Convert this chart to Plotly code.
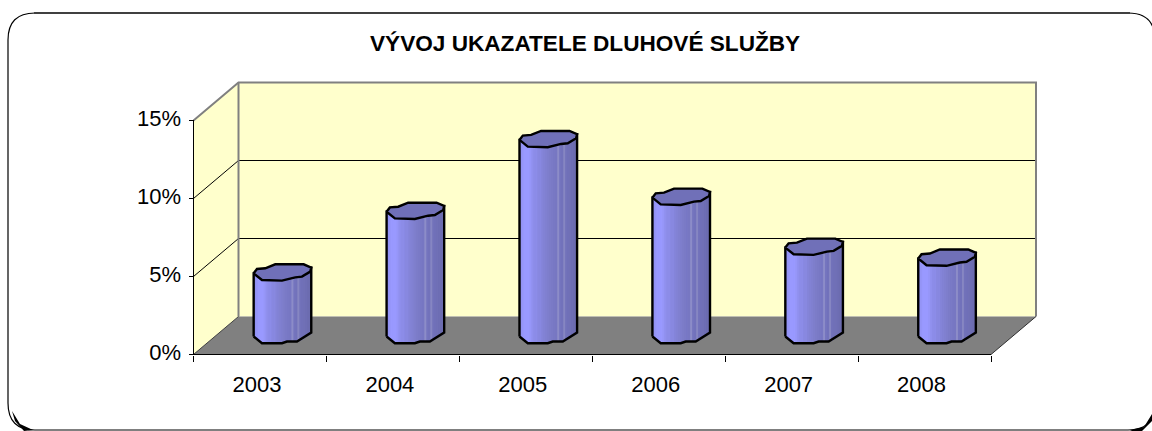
import numpy as np
import plotly.graph_objects as go

# ---- data ----
years = ["2003", "2004", "2005", "2006", "2007", "2008"]
values = [4.05, 8.0, 12.6, 8.9, 5.7, 5.0]
y_ticks = [0, 5, 10, 15]
y_labels = ["0%", "5%", "10%", "15%"]

W, H = 1152, 431
# plot box (px)
FX0, FX1 = 193.5, 991.0      # front axis extent
BX1 = 1036.0                 # back wall right
Y0, YT = 354.5, 82.5         # floor front, wall top
PAD = 4.0                    # room kept round the box so its edges are not clipped
UX = (FX1 - FX0) / 6         # px per category
UY = 234.0 / 15              # px per percent
DX = (BX1 - FX1) / UX        # depth in x units
DY = 38.0 / UY               # depth in y units
BODY_W = 57.6 / UX

# cylinder cross-section outline, px relative to its centre (y down)
LOW_X = [-28.8, -20.5, -0.5, 12.8, 19.5, 27.8, 28.8]
LOW_Y = [1.0, 7.7, 8.3, 5.0, 4.3, -0.7, -4.7]
UP_X = [28.8, 21.2, -7.2, -17.2, -25.5, -28.8]
UP_Y = [-4.7, -8.0, -8.0, -4.0, -3.3, 1.0]
BOT_X = [-28.8, -20.5, -0.5, 4.5, 14.5, 27.8, 28.8]
BOT_Y = [1.0, 7.7, 7.7, 6.0, 6.0, -2.3, -3.0]

# gradient strips
STRIP_COLORS = [
    "#9090f0", "#9595f8", "#9999ff", "#9999ff", "#9999ff", "#9696f8",
    "#9090ee", "#8c8ce8", "#8c8ce8", "#8888e0", "#8888e0", "#8484d8",
    "#8282d4", "#8080d0", "#7e7ecc", "#7c7cc8", "#7a7ac6", "#7878c4",
    "#7777c2", "#8c8cc8", "#7474be", "#7272bb", "#8686c2", "#7272ba",
    "#7070b8", "#7070b6", "#6e6eb4", "#6c6cb0", "#6c6cb0",
]
CAP = "#7070b8"
WALL = "#ffffcc"
FLOOR = "#808080"


def px(x):
    return x / W


def py(y):
    return 1 - y / H


def P(pts):
    return "M " + " L ".join(f"{px(a):.5f},{py(b):.5f}" for a, b in pts) + " Z"


fig = go.Figure()
centers = [i + 0.5 + DX / 2 for i in range(len(years))]
base0 = DY / 2

n = len(STRIP_COLORS)
sw = BODY_W / n
for k, col in enumerate(STRIP_COLORS):
    off = (k + 0.5) * sw - BODY_W / 2
    off_px = off * UX
    bot = np.interp(off_px, BOT_X, BOT_Y) / UY
    top = np.interp(off_px, LOW_X, LOW_Y) / UY
    # each strip reaches under the next one so no seam shows
    wide = 2 * sw if k < n - 1 else sw
    fig.add_trace(go.Bar(
        x=[c + off - sw / 2 + wide / 2 for c in centers],
        y=[v + bot - top for v in values],
        base=[base0 - bot] * len(values),
        width=wide,
        marker=dict(color=col, line=dict(width=0)),
        showlegend=False, hoverinfo="skip",
    ))

for c, v in zip(centers, values):
    top_y = base0 + v
    lx = [c + a / UX for a in LOW_X]
    ly = [top_y - b / UY for b in LOW_Y]
    ux = [c + a / UX for a in UP_X]
    uy = [top_y - b / UY for b in UP_Y]
    bx = [c + a / UX for a in BOT_X]
    by = [base0 - b / UY for b in BOT_Y]
    # silhouette
    fig.add_trace(go.Scatter(
        x=bx + [ux[0]] + [lx[0]] + [bx[0]],
        y=by + [uy[0]] + [ly[0]] + [by[0]],
        mode="lines", line=dict(color="black", width=2.4),
        showlegend=False, hoverinfo="skip",
    ))
    # top cap
    fig.add_trace(go.Scatter(
        x=lx + ux[1:], y=ly + uy[1:], mode="lines", fill="toself",
        fillcolor=CAP, line=dict(color="black", width=2.4),
        showlegend=False, hoverinfo="skip",
    ))

shapes = []


def poly(pts, fill=None, color=None, width=0, layer="below"):
    d = "M " + " L ".join(f"{a:.4f},{b:.4f}" for a, b in pts)
    if fill:
        d += " Z"
    shapes.append(dict(type="path", path=d, xref="x", yref="y", layer=layer,
                       fillcolor=fill or "rgba(0,0,0,0)",
                       line=dict(color=color or "rgba(0,0,0,0)", width=width)))


# walls and floor
poly([(DX, DY), (6 + DX, DY), (6 + DX, 15 + DY), (DX, 15 + DY)], fill=WALL)
poly([(0, 0), (DX, DY), (DX, 15 + DY), (0, 15)], fill=WALL)
poly([(0, 0), (6, 0), (6 + DX, DY), (DX, DY)], fill=FLOOR)
# gridlines
for t in y_ticks[1:-1]:
    poly([(0, t), (DX, t + DY), (6 + DX, t + DY)], color="black", width=1)
# grey wall edges
poly([(0, 15), (DX, 15 + DY), (6 + DX, 15 + DY), (6 + DX, DY)], color="#808080", width=2)
poly([(DX, DY), (DX, 15 + DY)], color="#808080", width=2)
poly([(0, 0), (DX, DY)], color="#404040", width=1)
poly([(6, 0), (6 + DX, DY)], color="#303030", width=1)
# axis lines
poly([(0, 15), (0, 0), (6, 0)], color="black", width=1)

# outer card
R = 27
card = (f"M {px(8)},{py(13 + R)} Q {px(8)},{py(13)} {px(8 + R)},{py(13)} "
        f"L {px(1155 - R)},{py(13)} Q {px(1155)},{py(13)} {px(1155)},{py(13 + R)} "
        f"L {px(1155)},{py(430 - R)} Q {px(1155)},{py(430)} {px(1155 - R)},{py(430)} "
        f"L {px(8 + R)},{py(430)} Q {px(8)},{py(430)} {px(8)},{py(430 - R)} Z")
shapes.insert(0, dict(type="path", path=card, xref="paper", yref="paper", layer="below",
                      fillcolor="white", line=dict(color="black", width=1.2)))
shapes.append(dict(type="line", xref="paper", yref="paper", layer="above",
                   x0=px(34), x1=px(1130), y0=py(13), y1=py(13),
                   line=dict(color="#404040", width=2)))
# corner shadow wedges
for pts in ([(1130, 430), (1144, 427), (1152, 414), (1152, 421), (1142, 431), (1132, 431)],
            [(12, 411), (20, 424), (33, 430), (24, 431), (15, 421)]):
    shapes.append(dict(type="path", path=P(pts), xref="paper", yref="paper", layer="above",
                       fillcolor="black", line=dict(width=0)))

fig.update_layout(
    width=W, height=H, margin=dict(l=0, r=0, t=0, b=0, autoexpand=False), autosize=False,
    paper_bgcolor="white", plot_bgcolor="rgba(0,0,0,0)",
    barmode="overlay", showlegend=False, shapes=shapes,
    font=dict(family="Liberation Sans, Arial, sans-serif", color="black"),
    xaxis=dict(
        domain=[px(FX0 - PAD), px(BX1 + PAD)], range=[-PAD / UX, 6 + DX + PAD / UX],
        type="linear", automargin=False, anchor="free", position=py(Y0),
        tickmode="array", tickvals=[i + 0.5 for i in range(len(years))], ticktext=years,
        ticks="", ticklen=0, showgrid=False, zeroline=False, showline=False,
        tickfont=dict(size=22), ticklabelstandoff=14, ticklabelshift=-3,
        minor=dict(tickmode="array", tickvals=list(range(len(years) + 1)), ticks="outside",
                   ticklen=6, tickcolor="black", tickwidth=1, showgrid=False),
    ),
    yaxis=dict(
        domain=[py(Y0 + PAD), py(YT - PAD)], range=[-PAD / UY, (Y0 - YT + PAD) / UY],
        automargin=False, anchor="free", position=px(FX0),
        tickmode="array", tickvals=y_ticks, ticktext=y_labels,
        ticks="outside", ticklen=5, tickcolor="black", tickwidth=1,
        showgrid=False, zeroline=False, showline=False,
        tickfont=dict(size=22), ticklabelstandoff=3, ticklabelshift=-2,
    ),
    annotations=[dict(text="<b>VÝVOJ UKAZATELE DLUHOVÉ SLUŽBY</b>", xref="paper", yref="paper",
                      x=px(585), y=py(44), xanchor="center", yanchor="middle", showarrow=False,
                      font=dict(size=22.6, family="Liberation Sans, Arial, sans-serif", color="black"))],
)

fig.write_html("out.html", config={"displayModeBar": False},
               post_script="document.body.style.margin='0';document.documentElement.style.overflow='hidden';")
